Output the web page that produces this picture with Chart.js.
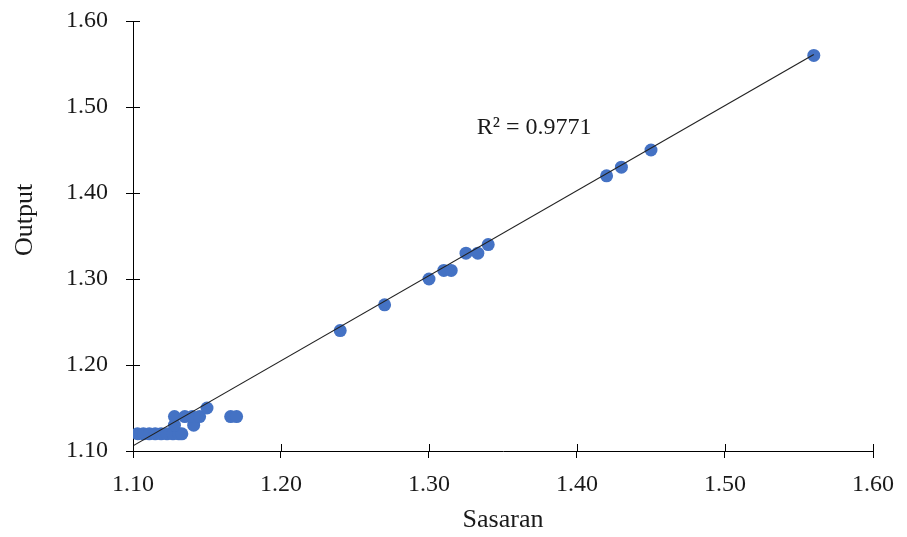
<!DOCTYPE html>
<html lang="en">
<head>
    <meta charset="UTF-8">
    <title>Sasaran vs Output</title>
    <script src="https://cdn.jsdelivr.net/npm/chart.js@4.4.1/dist/chart.umd.min.js"></script>
    <style>
        body {
            margin: 0;
            background: #ffffff;
        }
        .chart-container {
            position: relative;
            width: 907px;
            height: 537px;
        }
    </style>
</head>
<body>
    <div class="chart-container">
        <canvas id="scatterChart"></canvas>
    </div>

    <script>
        // values
        const sasaran = [1.103, 1.107, 1.111, 1.115, 1.119, 1.123, 1.127, 1.131, 1.133,
                         1.128, 1.141,
                         1.128, 1.135, 1.140, 1.145, 1.166, 1.170,
                         1.150,
                         1.240, 1.270, 1.300, 1.310, 1.315, 1.325, 1.333, 1.340,
                         1.420, 1.430, 1.450, 1.560];
        const output = [1.12, 1.12, 1.12, 1.12, 1.12, 1.12, 1.12, 1.12, 1.12,
                        1.13, 1.13,
                        1.14, 1.14, 1.14, 1.14, 1.14, 1.14,
                        1.15,
                        1.24, 1.27, 1.30, 1.31, 1.31, 1.33, 1.33, 1.34,
                        1.42, 1.43, 1.45, 1.56];
        // trendline end points as drawn in the picture
        const trendX = [1.10, 1.56];
        const trendY = [1.106, 1.561];
        const xTicks = [1.10, 1.20, 1.30, 1.40, 1.50, 1.60];
        const yTicks = [1.10, 1.20, 1.30, 1.40, 1.50, 1.60];
        const r2Label = 'R² = 0.9771';
        const yTitle = 'Output';

        const points = sasaran.map((x, i) => ({ x: x, y: output[i] }));
        const trend = trendX.map((x, i) => ({ x: x, y: trendY[i] }));

        const serif = "'Liberation Serif', 'DejaVu Serif', serif";

        // ticks that cross the axis line, R² label and the y title
        const extras = {
            id: 'extras',
            afterDraw(chart) {
                const ctx = chart.ctx;
                const xs = chart.scales.x, ys = chart.scales.y;
                const area = chart.chartArea;
                ctx.save();
                ctx.strokeStyle = '#000000';
                ctx.lineWidth = 1;
                ctx.beginPath();
                xTicks.forEach(v => {
                    const px = Math.round(xs.getPixelForValue(v)) + 0.5;
                    ctx.moveTo(px, area.bottom);
                    ctx.lineTo(px, area.bottom - 7);
                });
                yTicks.forEach(v => {
                    const py = Math.round(ys.getPixelForValue(v)) + 0.5;
                    ctx.moveTo(area.left, py);
                    ctx.lineTo(area.left + 7, py);
                });
                ctx.stroke();

                ctx.fillStyle = '#1a1a1a';
                ctx.font = '24px ' + serif;
                ctx.textAlign = 'center';
                ctx.textBaseline = 'middle';
                ctx.fillText(r2Label, xs.getPixelForValue(1.371), ys.getPixelForValue(1.476));

                // y title sits a little above the middle of the axis
                ctx.font = '26px ' + serif;
                ctx.translate(25, 220);
                ctx.rotate(-Math.PI / 2);
                ctx.fillText(yTitle, 0, 0);
                ctx.restore();
            }
        };

        const ctx = document.getElementById('scatterChart').getContext('2d');
        new Chart(ctx, {
            type: 'scatter',
            data: {
                datasets: [{
                    label: 'Output',
                    data: points,
                    backgroundColor: '#4472C4',
                    borderWidth: 0,
                    pointRadius: 6.5,
                    order: 2
                }, {
                    type: 'line',
                    label: 'Trendline',
                    data: trend,
                    borderColor: '#222222',
                    borderWidth: 1.2,
                    pointRadius: 0,
                    fill: false,
                    order: 1
                }]
            },
            options: {
                responsive: true,
                maintainAspectRatio: false,
                animation: false,
                layout: {
                    padding: { top: 21, right: 34, bottom: 0, left: 0 }
                },
                plugins: {
                    legend: { display: false },
                    tooltip: { enabled: false }
                },
                scales: {
                    x: {
                        type: 'linear',
                        min: 1.10,
                        max: 1.60,
                        afterBuildTicks: s => { s.ticks = xTicks.map(v => ({ value: v })); },
                        afterFit: s => {
                            s.height = 86;
                            s.paddingLeft = 0;
                            s.paddingRight = 0;
                        },
                        ticks: {
                            color: '#1a1a1a',
                            font: { family: serif, size: 24 },
                            padding: 12,
                            maxRotation: 0,
                            callback: v => v.toFixed(2)
                        },
                        grid: {
                            drawOnChartArea: false,
                            tickLength: 7,
                            color: '#000000'
                        },
                        border: { color: '#000000', width: 1 },
                        title: {
                            display: true,
                            text: 'Sasaran',
                            color: '#1a1a1a',
                            font: { family: serif, size: 26 },
                            padding: { top: 0, bottom: 1 }
                        }
                    },
                    y: {
                        type: 'linear',
                        min: 1.10,
                        max: 1.60,
                        afterBuildTicks: s => { s.ticks = yTicks.map(v => ({ value: v })); },
                        afterFit: s => {
                            s.width = 133;
                            s.paddingTop = 0;
                            s.paddingBottom = 0;
                        },
                        ticks: {
                            color: '#1a1a1a',
                            font: { family: serif, size: 24 },
                            padding: 18,
                            callback: v => v.toFixed(2)
                        },
                        grid: {
                            drawOnChartArea: false,
                            tickLength: 7,
                            color: '#000000'
                        },
                        border: { color: '#000000', width: 1 },
                        title: { display: false }
                    }
                }
            },
            plugins: [extras]
        });
    </script>
</body>
</html>
